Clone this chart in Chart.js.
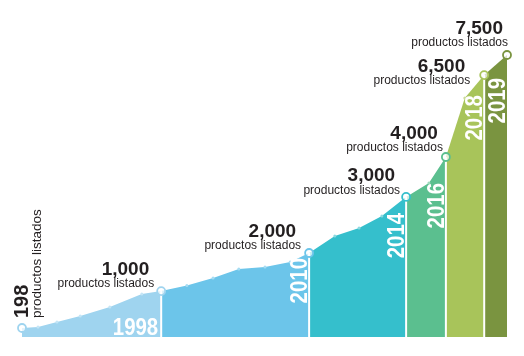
<!DOCTYPE html>
<html><head><meta charset="utf-8">
<script src="https://cdn.jsdelivr.net/npm/chart.js@4.4.1/dist/chart.umd.min.js"></script>
<style>html,body{margin:0;padding:0;background:#fff}canvas{display:block}</style>
</head><body>
<canvas id="c" width="524" height="356"></canvas>
<script>
// ---- data (the infographic is not to scale) ----
const positions = [0, 3.3, 7.2, 12.0, 18.1, 24.7, 28.7, 34.0, 39.4, 44.7, 50.1, 55.3, 59.2, 64.5, 69.5, 74.2, 79.2, 83.9, 87.4, 91.3, 95.3, 100];
const levels    = [3, 3.3, 5, 7, 10, 14.3, 15.3, 17.2, 19.7, 22.7, 23.3, 25, 28, 33.7, 36.3, 40.3, 46.7, 51.3, 60, 79.7, 87.3, 94];
const milestoneIdx = [0, 6, 12, 16, 18, 20, 21];
const milestoneCounts = ['198', '1,000', '2,000', '3,000', '4,000', '6,500', '7,500'];
const countCaption = 'productos listados';
const segmentYears = ['1998', '2010', '2014', '2016', '2018', '2019'];

// ---- styles ----
const segmentColors = ['#9fd4ef', '#6cc5ea', '#35bfcc', '#5bbf8f', '#a8c45a', '#7a9440'];
const dotColors = ['#c4e5f6', '#a6dcf2', '#8ad9e0', '#9bd9bb', '#cbdc98', '#a9b987'];
const captionOffsets = [null, [-7,-4], [-8,-4], [-6,-3], [-3,-6], [-14,9], [1,-9]];
const yearDrop = [null, 5, 16, 26, 20, 23];
const FONT = "'Liberation Sans', Arial, sans-serif";

const pt = i => ({x: positions[i], y: levels[i]});
const segOf = i => { let s = 0; while (s < milestoneIdx.length - 2 && i >= milestoneIdx[s + 1]) s++; return s; };
const datasets = [];

// milestone markers (top)
datasets.push({
  data: milestoneIdx.map(pt), showLine: false, order: 0,
  pointRadius: 4, pointBorderWidth: 1.8,
  pointBackgroundColor: milestoneIdx.map(() => 'rgba(255,255,255,0.72)'),
  pointBorderColor: milestoneIdx.map((_, k) => segmentColors[Math.max(0, k - 1)])
});
// white dividers
for (let k = 1; k < milestoneIdx.length - 1; k++) {
  const i = milestoneIdx[k];
  datasets.push({data: [{x: positions[i], y: 0}, pt(i)], borderColor: '#ffffff', borderWidth: 2,
    pointRadius: 0, fill: false, order: 1});
}
// small dots
const dotIdx = positions.map((_, i) => i).filter(i => !milestoneIdx.includes(i));
datasets.push({
  data: dotIdx.map(pt),
  showLine: false, order: 2, pointRadius: 1.5, pointBorderWidth: 0,
  pointBackgroundColor: dotIdx.map(i => dotColors[segOf(i)])
});
// coloured area segments
for (let s = 0; s < milestoneIdx.length - 1; s++) {
  const d = [];
  for (let i = milestoneIdx[s]; i <= milestoneIdx[s + 1]; i++) d.push(pt(i));
  datasets.push({data: d, fill: 'origin', backgroundColor: segmentColors[s], borderWidth: 0,
    borderColor: 'rgba(0,0,0,0)', pointRadius: 0, order: 3 + s});
}

const labelPlugin = {
  id: 'labels',
  afterDatasetsDraw(chart) {
    const {ctx, scales: {x, y}} = chart;
    ctx.save();
    ctx.fillStyle = '#231f20';
    milestoneIdx.forEach((idx, k) => {
      const px = x.getPixelForValue(positions[idx]);
      const py = y.getPixelForValue(levels[idx]);
      if (k === 0) {
        ctx.save();
        ctx.translate(px + 6, py - 10);
        ctx.rotate(-Math.PI / 2);
        ctx.textAlign = 'left'; ctx.textBaseline = 'alphabetic';
        ctx.font = 'bold 20px ' + FONT;
        ctx.fillText(milestoneCounts[k], 0, 0);
        ctx.restore();
        ctx.save();
        ctx.translate(px + 19, py - 10);
        ctx.rotate(-Math.PI / 2);
        ctx.textAlign = 'left'; ctx.textBaseline = 'alphabetic';
        ctx.font = '13.5px ' + FONT;
        ctx.fillText(countCaption, 0, 0);
        ctx.restore();
        return;
      }
      const [dx, dy] = captionOffsets[k];
      ctx.textAlign = 'right'; ctx.textBaseline = 'alphabetic';
      ctx.font = '12px ' + FONT;
      ctx.fillText(countCaption, px + dx, py + dy);
      ctx.font = 'bold 19px ' + FONT;
      ctx.fillText(milestoneCounts[k], px + dx - 5, py + dy - 12.5);
    });
    // year labels
    ctx.fillStyle = '#ffffff';
    segmentYears.forEach((yr, s) => {
      const idx = milestoneIdx[s + 1];
      const lx = x.getPixelForValue(positions[idx]);
      const ly = y.getPixelForValue(levels[idx]);
      ctx.save();
      ctx.font = 'bold 24px ' + FONT;
      ctx.textAlign = 'right'; ctx.textBaseline = 'alphabetic';
      if (s === 0) {
        ctx.translate(lx - 3, y.bottom - 2);
        ctx.scale(0.85, 1);
      } else {
        ctx.translate(lx - 2, ly + yearDrop[s]);
        ctx.rotate(-Math.PI / 2);
        ctx.scale(0.85, 1);
      }
      ctx.fillText(yr, 0, 0);
      ctx.restore();
    });
    ctx.restore();
  }
};

new Chart(document.getElementById('c'), {
  type: 'line',
  data: {datasets},
  options: {
    responsive: false, animation: false,
    layout: {padding: {left: 22, right: 17, top: 37, bottom: 19}},
    elements: {line: {tension: 0}},
    scales: {
      x: {type: 'linear', min: 0, max: 100, display: false},
      y: {type: 'linear', min: 0, max: 100, display: false}
    },
    plugins: {legend: {display: false}, tooltip: {enabled: false}},
    clip: false
  },
  plugins: [labelPlugin]
});
</script>
</body></html>
